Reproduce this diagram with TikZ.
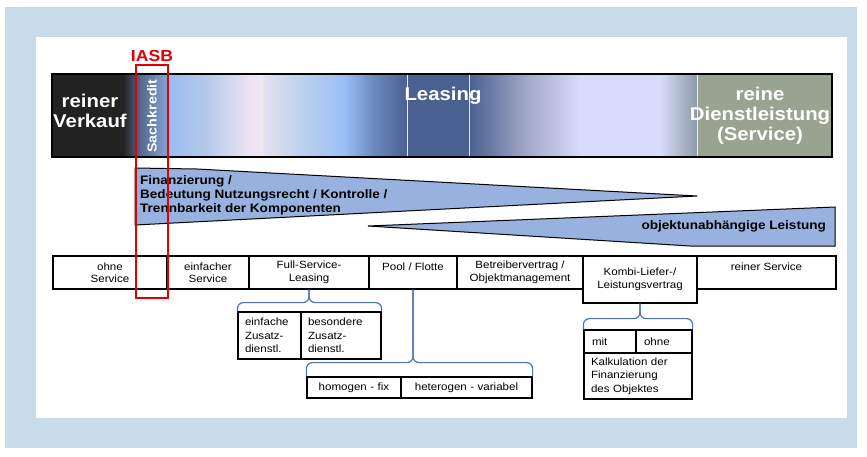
\documentclass[tikz,border=0pt]{standalone}
\usepackage{fontspec}
\setmainfont[FakeStretch=1.1]{Liberation Sans}
\usetikzlibrary{calc}
\definecolor{panel}{RGB}{200,219,232}
\definecolor{wedgefill}{RGB}{152,178,224}
\definecolor{braceblue}{RGB}{79,115,181}
\definecolor{iasbred}{RGB}{224,0,0}
\definecolor{c1}{HTML}{222222}
\definecolor{c2}{HTML}{56698F}
\definecolor{c3}{HTML}{85A6D8}
\definecolor{c4}{HTML}{98BCF4}
\definecolor{c5}{HTML}{B4C8EA}
\definecolor{c6}{HTML}{ECE2F2}
\definecolor{c7}{HTML}{F2E6F4}
\definecolor{c8}{HTML}{E8E2F0}
\definecolor{c9}{HTML}{C8D6EC}
\definecolor{c10}{HTML}{98BEF6}
\definecolor{c11}{HTML}{6C8CC0}
\definecolor{c12}{HTML}{4A6090}
\definecolor{c13}{HTML}{A0A6C6}
\definecolor{c14}{HTML}{D8DCFA}
\definecolor{c15}{HTML}{8A9AA8}
\definecolor{c16}{HTML}{9AA290}
\begin{document}
\begin{tikzpicture}[x=1pt,y=-1pt,
  bartext/.style={text=white, font=\bfseries\fontsize{18.5}{20}\selectfont, align=center, inner sep=0},
  wedge/.style={draw=black, line width=1pt, fill=wedgefill},
  wedgetext/.style={font=\bfseries\fontsize{12.3}{14}\selectfont, inner sep=0},
  rowbox/.style={draw=black, line width=1.2pt, inner sep=0, align=center, minimum height=33,
    font=\fontsize{10.5}{12.5}\selectfont},
  subbox/.style={draw=black, line width=1.2pt, inner xsep=7pt, inner ysep=0, align=left,
    font=\fontsize{10.5}{13.5}\selectfont},
  brace/.style={draw=braceblue, line width=1.2pt, rounded corners=6pt},
  whiteline/.style={draw=white!85!gray, line width=0.8pt}
]
\useasboundingbox (0,0) rectangle (867,456);
\fill[panel] (5,7) rectangle (857,448);
\fill[white] (36,37) rectangle (847,418);

% spectrum bar
\fill[c1] (52,74) rectangle (123.5,157);
\shade[left color=c1, right color=c2] (123,74) rectangle (140.5,157);
\shade[left color=c2, right color=c3] (140,74) rectangle (168.5,157);
\shade[left color=c4, right color=c5] (168,74) rectangle (205.5,157);
\shade[left color=c5, right color=c6] (205,74) rectangle (248.5,157);
\shade[left color=c6, right color=c7] (248,74) rectangle (262.5,157);
\shade[left color=c8, right color=c9] (262,74) rectangle (290.5,157);
\shade[left color=c9, right color=c10] (290,74) rectangle (345.5,157);
\shade[left color=c10, right color=c11] (345,74) rectangle (372.5,157);
\shade[left color=c11, right color=c12] (372,74) rectangle (407.5,157);
\fill[c12] (407,74) rectangle (469.5,157);
\shade[left color=c12, right color=c13] (469,74) rectangle (525.5,157);
\shade[left color=c13, right color=c14] (525,74) rectangle (580.5,157);
\fill[c14] (580,74) rectangle (660.5,157);
\shade[left color=c14, right color=c15] (660,74) rectangle (697.5,157);
\fill[c16] (697,74) rectangle (832,157);
\draw[whiteline] (262,75) -- (262,156);
\draw[whiteline] (407,75) -- (407,156);
\draw[whiteline] (469,75) -- (469,156);
\draw[whiteline] (697,75) -- (697,156);
\node[draw=black, line width=2pt, minimum width=780, minimum height=83, inner sep=0] (bar) at (442,115.5) {};

\node[bartext] (verkauf) at (90,111) {reiner\\Verkauf};
\node[bartext, font=\bfseries\fontsize{13}{15}\selectfont, rotate=90] (sach) at (152,116) {Sachkredit};
\node[bartext] (leasing) at (443,96) {Leasing};
\node[bartext] (dienst) at (760,116) {reine\\Dienstleistung\\(Service)};

% wedges
\draw[wedge] (135,168) -- (197,169) -- (697,196) -- (135,225) -- cycle;
\draw[wedge] (368,226) -- (835,207) -- (835,246) -- (690,246) -- cycle;
\node[wedgetext, anchor=north west, align=left] (fin) at (140,175.5)
  {Finanzierung /\\Bedeutung Nutzungsrecht / Kontrolle /\\Trennbarkeit der Komponenten};
\node[wedgetext, anchor=east] (obj) at (826,226) {objektunabhängige Leistung};

% row of boxes
\node[rowbox, minimum width=114] (ohne) at (110,272.5) {ohne\\Service};
\node[rowbox, minimum width=82] (einf) at (208,272.5) {einfacher\\Service};
\node[rowbox, minimum width=120] (full) at (309,272.5) {Full-Service-\\Leasing};
\node[rowbox, minimum width=88] (pool) at (413,272.5) {Pool / Flotte\\\mbox{}};
\node[rowbox, minimum width=126] (betr) at (520,272.5) {Betreibervertrag /\\Objektmanagement};
\node[rowbox, minimum width=114, minimum height=47] (kombi) at (640,279.5) {};
\node[rowbox, draw=none, anchor=north] (kombitext) at ([yshift=-7pt]kombi.north) {Kombi-Liefer-/\\Leistungsvertrag};
\node[rowbox, minimum width=139] (rein) at (766.5,272.5) {reiner Service\\\mbox{}};

% sub boxes
\node[subbox, minimum width=63, minimum height=47, text width=49] (e1) at (269.5,335.5) {einfache\\Zusatz-\\dienstl.};
\node[subbox, minimum width=80, minimum height=47, text width=66] (e2) at (341,335.5) {besondere\\Zusatz-\\dienstl.};
\node[subbox, minimum width=94, minimum height=21, align=center, text width=80] (h1) at (354,387.5) {homogen - fix};
\node[subbox, minimum width=131, minimum height=21, align=center, text width=117] (h2) at (466.5,387.5) {heterogen - variabel};
\node[subbox, minimum width=52, minimum height=23, inner xsep=8pt, text width=36] (m1) at (610,341.5) {mit};
\node[subbox, minimum width=56, minimum height=23, inner xsep=8pt, text width=40] (m2) at (664,341.5) {ohne};
\node[subbox, minimum width=108, minimum height=46, text width=94] (kalk) at (638,376) {Kalkulation der\\Finanzierung\\des Objektes};

% braces
\draw[brace] (e1.north west) |- ([yshift=-13pt]full.south) -- (full.south);
\draw[brace] (e2.north east) |- ([yshift=-13pt]full.south) -- (full.south);
\draw[brace] (h1.north west) |- ([yshift=-73pt]pool.south) -- (pool.south);
\draw[brace] (h2.north east) |- ([yshift=-73pt]pool.south) -- (pool.south);
\draw[brace] (m1.north west) |- ([yshift=-15pt]kombi.south) -- (kombi.south);
\draw[brace] (m2.north east) |- ([yshift=-15pt]kombi.south) -- (kombi.south);

% IASB frame
\node[draw=iasbred, line width=2pt, minimum width=32, minimum height=233, inner sep=0] (iasbbox) at (152,181.5) {};
\node[anchor=south, inner sep=0, text=iasbred, font=\bfseries\fontsize{16}{18}\selectfont] (iasb) at ([yshift=2pt]iasbbox.north) {IASB};
\end{tikzpicture}
\end{document}
